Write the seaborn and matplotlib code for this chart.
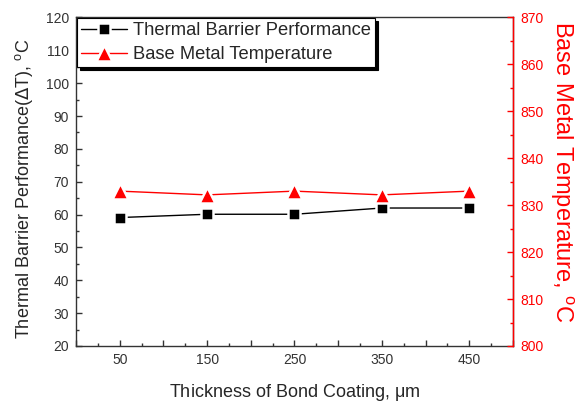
import numpy as np
import pandas as pd
import seaborn as sns
import matplotlib.pyplot as plt
from matplotlib.ticker import MultipleLocator, FuncFormatter

# values
thickness = [50, 150, 250, 350, 450]
delta_t = [59.1, 60.1, 60.1, 62.0, 62.0]
base_temp = [833.0, 832.2, 833.0, 832.2, 833.0]

df = pd.DataFrame({'thickness': thickness, 'delta_t': delta_t, 'base_temp': base_temp})

sns.set_style('ticks')
plt.rcParams['font.family'] = ['Liberation Sans', 'DejaVu Sans']
plt.rcParams['xtick.direction'] = 'in'
plt.rcParams['ytick.direction'] = 'in'

RED = '#ff0000'

fig, ax = plt.subplots(figsize=(5.86, 4.04), dpi=100)
fig.subplots_adjust(left=0.1297, right=0.8754, top=0.9567, bottom=0.1436)
ax2 = ax.twinx()

sns.lineplot(data=df, x='thickness', y='delta_t', ax=ax, color='black', lw=1,
             marker='s', markersize=8.5, markeredgecolor='white', markeredgewidth=1.8,
             label='Thermal Barrier Performance', legend=False)
sns.lineplot(data=df, x='thickness', y='base_temp', ax=ax2, color=RED, lw=1,
             marker='^', markersize=11, markeredgecolor='white', markeredgewidth=1.8,
             label='Base Metal Temperature', legend=False)

ax.set_xlim(0, 500)
ax.set_ylim(20, 120)
ax2.set_ylim(800, 870)

ax.xaxis.set_major_locator(MultipleLocator(50))
ax.xaxis.set_minor_locator(MultipleLocator(25))
ax.xaxis.set_major_formatter(FuncFormatter(lambda v, p: f'{int(v)}' if int(v) in thickness else ''))
ax.yaxis.set_major_locator(MultipleLocator(10))
ax.yaxis.set_minor_locator(MultipleLocator(5))
ax2.yaxis.set_major_locator(MultipleLocator(10))
ax2.yaxis.set_minor_locator(MultipleLocator(5))

for a in (ax, ax2):
    a.tick_params(which='major', length=4, width=1, labelsize=10, pad=5)
    a.tick_params(which='minor', length=2, width=1)
ax.tick_params(axis='both', which='both', colors='#333333')
ax.tick_params(axis='x', which='both', top=False)
ax2.tick_params(axis='y', which='both', colors=RED)

for s in ax.spines.values():
    s.set_linewidth(1)
    s.set_color('#333333')
ax2.spines['right'].set_color(RED)
ax2.spines['right'].set_linewidth(1)
ax2.spines['left'].set_visible(False)
ax2.spines['top'].set_visible(False)
ax2.spines['bottom'].set_visible(False)

ax.set_xlabel('Thickness of Bond Coating, $\\mathregular{\\mu}$m', fontsize=13, labelpad=11)
ax.set_ylabel('Thermal Barrier Performance($\\Delta$T), $\\mathregular{^o}$C', fontsize=13, labelpad=8)
ax2.set_ylabel('Base Metal Temperature, $\\mathregular{^o}$C', fontsize=17, color=RED,
               rotation=270, labelpad=23)
# labels in the reference sit a bit off centre
ax.yaxis.label.set_y(0.479)
ax2.yaxis.label.set_y(0.531)

h1, l1 = ax.get_legend_handles_labels()
h2, l2 = ax2.get_legend_handles_labels()
leg = ax2.legend(h1 + h2, l1 + l2, loc='upper left', fontsize=13.2, frameon=True,
                 fancybox=False, shadow={'color': 'black', 'alpha': 1},
                 edgecolor='black', framealpha=1, borderaxespad=0.05,
                 borderpad=0.22, labelspacing=0.36, handlelength=2.5, handletextpad=0.35)
leg.get_frame().set_linewidth(0.8)

plt.savefig('out.png', dpi=100)
